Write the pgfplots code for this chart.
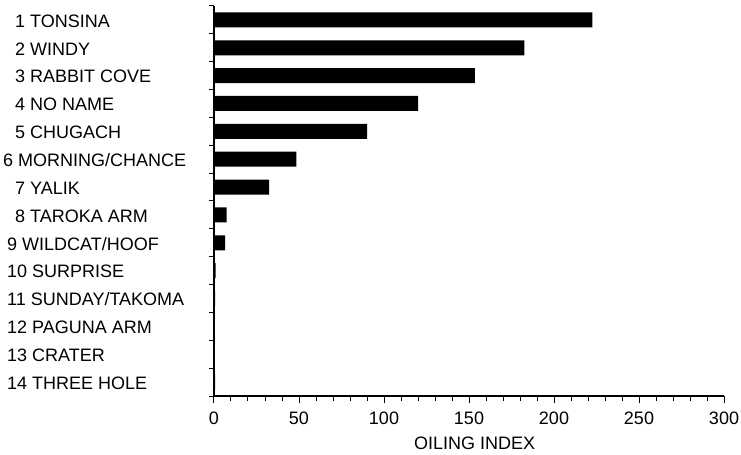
\documentclass[border=0pt]{standalone}
\usepackage{pgfplots}
\pgfplotsset{compat=1.18}
\usepackage{fontspec}
\setmainfont{Liberation Sans}
\begin{document}
\fontsize{17.5bp}{21bp}\selectfont
\begin{tikzpicture}[x=1bp,y=1bp]
\useasboundingbox (-214,-59) rectangle (527,396);
\begin{axis}[
  at={(0,0)}, anchor=south west,
  scale only axis,
  width=510bp, height=390bp,
  xbar, bar width=15bp,
  xmin=0, xmax=300,
  ymin=0.5, ymax=14.5,
  y dir=reverse,
  axis lines*=left,
  axis line style={line width=1.3pt},
  tick align=outside,
  xtick={0,50,...,300},
  minor x tick num=4,
  ytick={1,...,14},
  minor ytick={0.5,1.5,...,14.5},
  major tick length=7bp,
  minor tick length=5bp,
  every tick/.style={black, line width=1pt},
  major y tick style={draw=none},
  minor y tick style={draw=black, line width=1pt},
  /pgf/number format/assume math mode=true,
  tick label style={font=\fontsize{18bp}{21bp}\selectfont},
  xticklabel style={yshift=-3bp},
  label style={font=\fontsize{18bp}{21bp}\selectfont},
  yticklabels={
    \hspace*{8bp}1 TONSINA,
    \hspace*{8bp}2 WINDY,
    \hspace*{8bp}3 RABBIT COVE,
    \hspace*{8bp}4 NO NAME,
    \hspace*{8bp}5 CHUGACH,
    \hspace*{-4bp}6 MORNING/CHANCE,
    \hspace*{8bp}7 YALIK,
    \hspace*{8bp}8 TAROKA ARM,
    9 WILDCAT/HOOF,
    10 SURPRISE,
    11 SUNDAY/TAKOMA,
    12 PAGUNA ARM,
    13 CRATER,
    14 THREE HOLE},
  yticklabel style={anchor=west, xshift=-200bp, inner sep=0pt, yshift=-1bp},
  xlabel={OILING INDEX},
  xlabel style={at={(rel axis cs:0.511,0)}, anchor=center, yshift=-47.5bp},
]
\addplot[fill=black, draw=none] coordinates {
  (222.5,1) (182.5,2) (153.5,3) (120,4) (90,5) (48.5,6) (32.5,7)
  (7.5,8) (6.5,9) (1,10) (0.6,11) (0.5,12) (0.5,13) (0.6,14)
};
\end{axis}
\end{tikzpicture}
\end{document}
